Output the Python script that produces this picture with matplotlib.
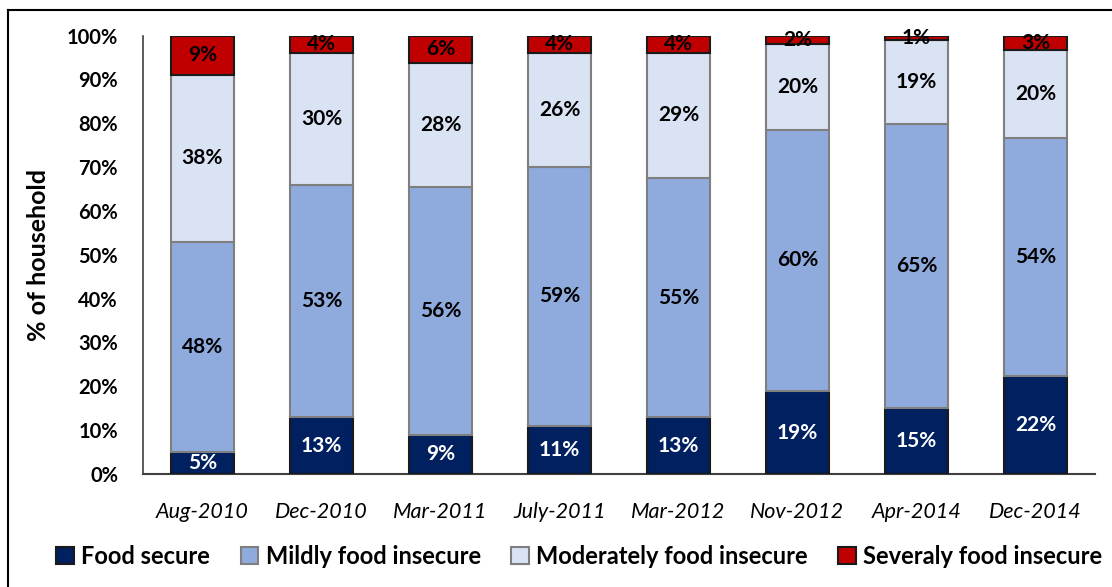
import matplotlib
matplotlib.use("Agg")
import matplotlib.pyplot as plt
from matplotlib.lines import Line2D
from matplotlib.patches import Patch

categories = ["Aug-2010", "Dec-2010", "Mar-2011", "July-2011",
              "Mar-2012", "Nov-2012", "Apr-2014", "Dec-2014"]
food_secure = [5, 13, 9, 11, 12.9, 18.9, 15, 22.3]
mildly = [48, 53, 56.4, 59, 54.6, 59.6, 64.9, 54.4]
moderately = [38, 30, 28.4, 26, 28.6, 19.6, 19.0, 20.1]
severely = [9, 4, 6.2, 4, 3.9, 1.9, 1.1, 3.2]
series_names = ["Food secure", "Mildly food insecure",
                "Moderately food insecure", "Severaly food insecure"]
y_ticks = [0, 10, 20, 30, 40, 50, 60, 70, 80, 90, 100]

colors = ["#002060", "#8FAADC", "#DAE3F3", "#C00000"]
edges = ["#1a1a1a", "#7f7f7f", "#7f7f7f", "#1a1a1a"]
text_colors = ["white", "black", "black", "black"]

FONT = "Lato"
fig = plt.figure(figsize=(11.12, 5.87), dpi=100)
ax = fig.add_axes([0.1286, 0.1925, 0.8560, 0.7470])

data = [food_secure, mildly, moderately, severely]
x = list(range(len(categories)))
bottom = [0.0] * len(categories)
for i, vals in enumerate(data):
    ax.bar(x, vals, width=0.53, bottom=bottom, color=colors[i],
           edgecolor=edges[i], linewidth=1.5, zorder=3)
    for xi, v, b in zip(x, vals, bottom):
        ax.text(xi, b + v / 2, f"{v:.0f}%", ha="center", va="center",
                fontsize=15, fontweight="bold", color=text_colors[i],
                family=FONT, zorder=4)
    bottom = [b + v for b, v in zip(bottom, vals)]

ax.set_xlim(-0.5, len(categories) - 0.5)
ax.set_ylim(0, 100)
ax.set_yticks(y_ticks)
ax.set_yticklabels([f"{t}%" for t in y_ticks], fontsize=14.5,
                   fontweight="bold", family=FONT)
ax.set_xticks(x)
ax.set_xticklabels(categories, fontsize=15.5, style="italic", family=FONT)
ax.tick_params(axis="both", length=0)
ax.tick_params(axis="y", pad=18)
ax.tick_params(axis="x", pad=20)
for s in ["top", "right"]:
    ax.spines[s].set_visible(False)
ax.spines["left"].set_color("#404040")
ax.spines["bottom"].set_color("#404040")
ax.spines["left"].set_linewidth(1.2)
ax.spines["bottom"].set_linewidth(1.5)
ax.set_ylabel("% of household", fontsize=18, fontweight="bold",
              family=FONT, labelpad=12)

handles = [Patch(facecolor=c, edgecolor=e, linewidth=1.5)
           for c, e in zip(colors, edges)]
fig.legend(handles, series_names, loc="center", ncol=4,
           bbox_to_anchor=(0.521, 0.052), frameon=False,
           prop={"family": FONT, "weight": "bold", "size": 17},
           handlelength=0.75, handleheight=0.75, handletextpad=0.3,
           columnspacing=1.3)

# figure frame lines (left and top)
fig.add_artist(Line2D([0.0072, 0.0072], [0, 0.983], transform=fig.transFigure,
                      color="black", linewidth=1.5))
fig.add_artist(Line2D([0.0072, 1.0], [0.983, 0.983], transform=fig.transFigure,
                      color="black", linewidth=1.5))

fig.savefig("out.png", dpi=100)
